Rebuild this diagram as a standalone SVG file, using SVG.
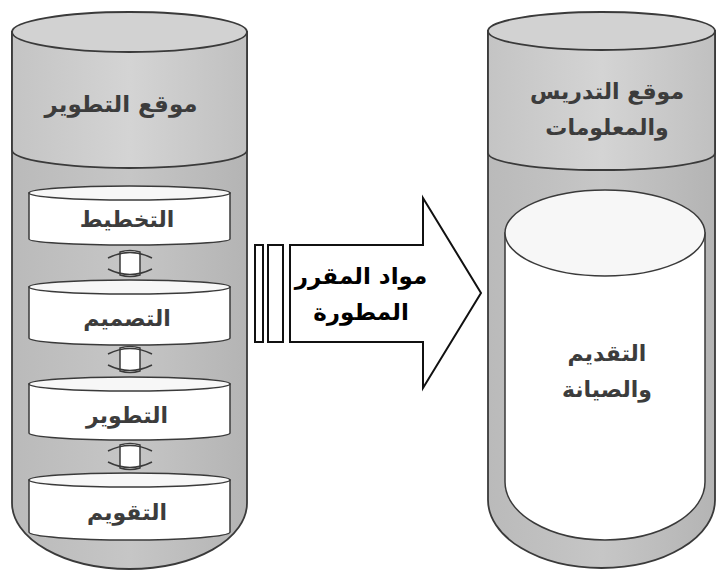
<svg xmlns="http://www.w3.org/2000/svg" width="716" height="572" viewBox="0 0 716 572">
<defs>
<linearGradient id="gray" x1="0" y1="0" x2="1" y2="0">
<stop offset="0" stop-color="#bababa"/>
<stop offset="0.5" stop-color="#c6c6c6"/>
<stop offset="1" stop-color="#b4b4b4"/>
</linearGradient>
<linearGradient id="head" x1="0" y1="0" x2="1" y2="0">
<stop offset="0" stop-color="#c4c4c4"/>
<stop offset="0.5" stop-color="#d4d4d4"/>
<stop offset="1" stop-color="#c0c0c0"/>
</linearGradient>
</defs>
<style>
.cyl{fill:url(#gray);stroke:#3a3a3a;stroke-width:1.8}
.hd{fill:url(#head);stroke:#3a3a3a;stroke-width:1.8}
.top{fill:#d2d2d2;stroke:#3a3a3a;stroke-width:1.8}
.box{fill:#ffffff;stroke:#3a3a3a;stroke-width:1.5}
.boxtop{fill:#f7f7f7;stroke:#3a3a3a;stroke-width:1.5}
.t{font-family:"DejaVu Sans","Noto Sans",sans-serif;font-weight:bold;fill:#3c3c3c;text-anchor:middle;dominant-baseline:central}
.arr{fill:#ffffff;stroke:#111;stroke-width:2}
.conn{fill:#ffffff;stroke:#3a3a3a;stroke-width:1.5}
</style>

<g id="left-cylinder">
<path class="cyl" d="M12,32 L12,503 A117.5 66 0 0 0 247,503 L247,32 Z"/>
<path class="hd" d="M12,32 L12,150 A117.5 18 0 0 0 247,150 L247,32 Z"/>
<ellipse class="top" cx="129.5" cy="32" rx="117.5" ry="20"/>
<text class="t" x="121" y="104" font-size="23">موقع التطوير</text>
</g>

<g id="stage-planning">
<path class="box" d="M29,193 L29,239 A100.5 6 0 0 0 230,239 L230,193 Z"/>
<ellipse class="boxtop" cx="129.5" cy="193" rx="100.5" ry="7"/>
<text class="t" x="127" y="219" font-size="22">التخطيط</text>
</g>

<g id="stage-design">
<path class="box" d="M29,287 L29,338 A100.5 7 0 0 0 230,338 L230,287 Z"/>
<ellipse class="boxtop" cx="129.5" cy="287" rx="100.5" ry="7"/>
<text class="t" x="127" y="318" font-size="22">التصميم</text>
</g>

<g id="stage-development">
<path class="box" d="M29,384 L29,433 A100.5 7 0 0 0 230,433 L230,384 Z"/>
<ellipse class="boxtop" cx="129.5" cy="384" rx="100.5" ry="7"/>
<text class="t" x="127" y="415" font-size="22">التطوير</text>
</g>

<g id="stage-evaluation">
<path class="box" d="M29,480 L29,532 A100.5 8 0 0 0 230,532 L230,480 Z"/>
<ellipse class="boxtop" cx="129.5" cy="480" rx="100.5" ry="7"/>
<text class="t" x="127" y="512" font-size="22">التقويم</text>
</g>

<g id="connectors">
<g>
<path class="conn" d="M120,252 Q130,249 140,252 L140,275 Q130,278 120,275 Z"/>
<path d="M108,258 Q130,247 152,258 M108,269 Q130,280 152,269" fill="none" stroke="#3a3a3a" stroke-width="1.5"/>
</g>
<g>
<path class="conn" d="M120,348 Q130,345 140,348 L140,371 Q130,374 120,371 Z"/>
<path d="M108,354 Q130,343 152,354 M108,365 Q130,376 152,365" fill="none" stroke="#3a3a3a" stroke-width="1.5"/>
</g>
<g>
<path class="conn" d="M120,445 Q130,442 140,445 L140,468 Q130,471 120,468 Z"/>
<path d="M108,451 Q130,440 152,451 M108,462 Q130,473 152,462" fill="none" stroke="#3a3a3a" stroke-width="1.5"/>
</g>
</g>

<g id="arrow">
<rect class="arr" x="255" y="245" width="8" height="97"/>
<rect class="arr" x="268" y="245" width="15" height="97"/>
<path class="arr" d="M290,245 L423,245 L423,198 L481,293 L423,388 L423,342 L290,342 Z"/>
<text class="t" x="361" y="276" font-size="23" style="fill:#000">مواد المقرر</text>
<text class="t" x="361" y="312" font-size="23" style="fill:#000">المطورة</text>
</g>

<g id="right-cylinder">
<path class="cyl" d="M488,31 L488,500 A113.5 68 0 0 0 715,500 L715,31 Z"/>
<path class="hd" d="M488,31 L488,153 A113.5 17 0 0 0 715,153 L715,31 Z"/>
<ellipse class="top" cx="601.5" cy="31" rx="113.5" ry="19"/>
<text class="t" x="607" y="91" font-size="22">موقع التدريس</text>
<text class="t" x="607" y="127" font-size="22">والمعلومات</text>
</g>

<g id="presentation">
<path class="box" d="M505,233 L505,482 A100 58 0 0 0 705,482 L705,233 Z"/>
<ellipse class="boxtop" cx="605" cy="233" rx="100" ry="43"/>
<text class="t" x="607" y="353" font-size="22">التقديم</text>
<text class="t" x="607" y="389" font-size="22">والصيانة</text>
</g>
</svg>
